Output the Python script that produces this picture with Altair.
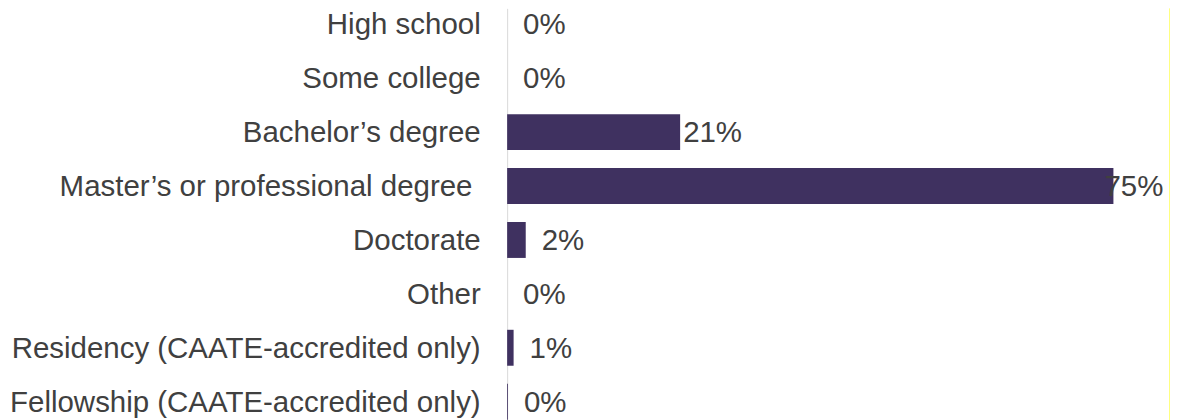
import altair as alt
import pandas as pd

categories = [
    "High school",
    "Some college",
    "Bachelor\u2019s degree",
    "Master\u2019s or professional degree\u00a0\u200b",
    "Doctorate",
    "Other",
    "Residency (CAATE-accredited only)",
    "Fellowship (CAATE-accredited only)",
]
values = [0, 0, 21.4, 75, 2.3, 0, 0.8, 0.1]
labels = ["0%", "0%", "21%", "75%", "2%", "0%", "1%", "0%"]
x_max = [82.0]

df = pd.DataFrame({"cat": categories, "val": values, "lab": labels})

FONT = "Liberation Sans"
TXT = "#404040"
BAR = "#3f3160"
FS = 29.5

y_enc = alt.Y(
    "cat:N",
    sort=categories,
    scale=alt.Scale(paddingInner=0.333, paddingOuter=0),
    axis=alt.Axis(
        title=None,
        ticks=False,
        grid=False,
        domain=True,
        domainColor="#d9d9d9",
        domainWidth=1,
        labelFont=FONT,
        labelFontSize=FS,
        labelColor=TXT,
        labelPadding=27,
        labelOffset=-1,
        labelLimit=600,
    ),
)
x_scale = alt.Scale(domain=[0, x_max[0]], nice=False, zero=True)


def value_text(expr, dx):
    return alt.Chart(df).transform_filter(expr).mark_text(
        align="left", baseline="middle", dx=dx, yOffset=-1,
        font=FONT, fontSize=FS, color=TXT,
    ).encode(x=alt.X("val:Q", scale=x_scale, axis=None), y=y_enc, text="lab:N")


bars = alt.Chart(df).mark_bar(color=BAR, yOffset=-2).encode(
    x=alt.X("val:Q", scale=x_scale, axis=None),
    y=y_enc,
)

small = value_text("datum.val < 10", 16)
mid = value_text("datum.val >= 10 && datum.val < 50", 3)
big = value_text("datum.val >= 50", -9)

edge = alt.Chart(pd.DataFrame({"m": x_max})).mark_rule(
    color="#ffff00", strokeWidth=1
).encode(x=alt.X("m:Q", scale=x_scale, axis=None))

chart = alt.layer(bars, small, mid, big, edge).properties(
    width=664,
    height=414,
    autosize=alt.AutoSizeParams(type="none"),
    padding={"left": 500, "top": 0, "right": 0, "bottom": 0},
).configure_view(stroke=None)

chart.save("out.html", embed_options={"renderer": "svg", "actions": False})
